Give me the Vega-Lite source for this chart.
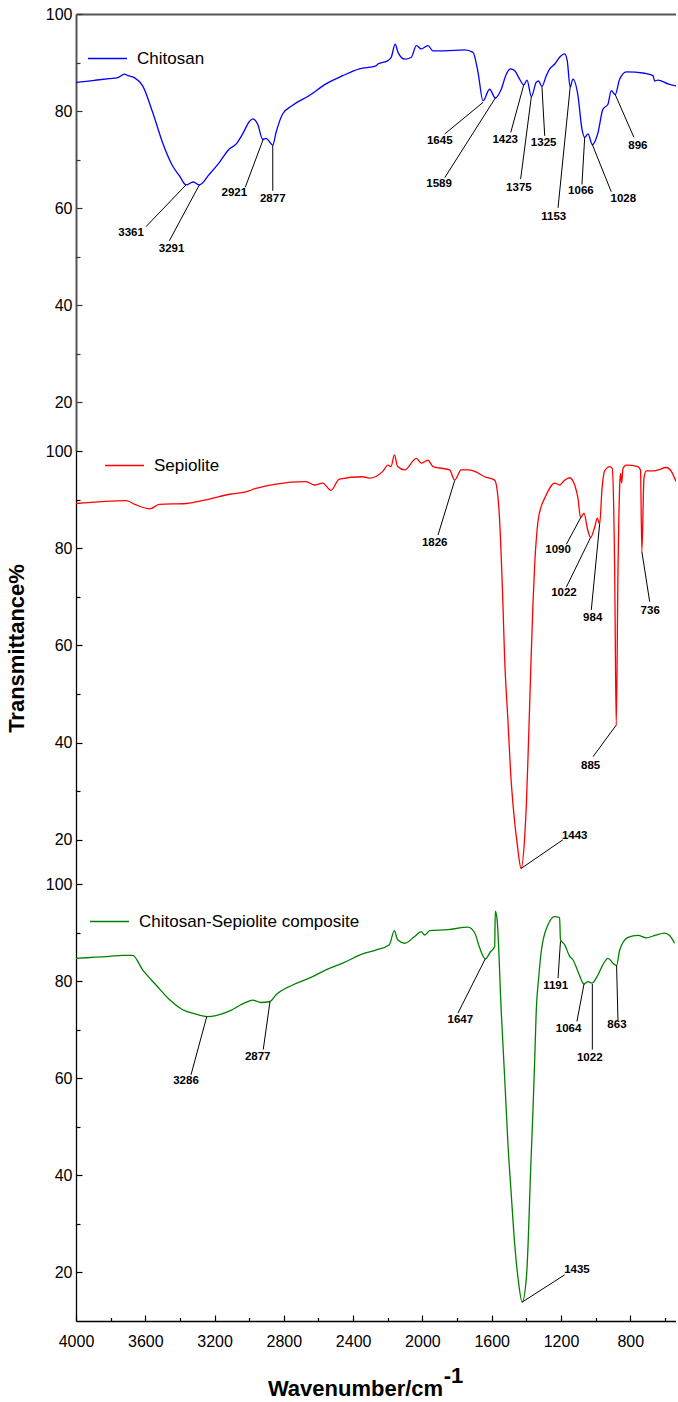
{
  "$schema": "https://vega.github.io/schema/vega-lite/v6.json",
  "padding": {"left": 5, "top": 6, "right": 0, "bottom": 0},
  "spacing": 0,
  "bounds": "flush",
  "config": {
    "view": {"stroke": null},
    "font": "Liberation Sans",
    "axis": {"labelFont": "Liberation Sans", "labelFontSize": 16, "labelColor": "#000", "grid": false, "domainColor": "#000", "tickColor": "#000", "domainWidth": 1.3, "tickWidth": 1.2, "titleFont": "Liberation Sans", "titleColor": "#000", "labelOverlap": false},
    "legend": {"orient": "none", "symbolType": "stroke", "symbolSize": 1521, "symbolStrokeWidth": 1.5, "labelFont": "Liberation Sans", "labelFontSize": 17, "labelColor": "#000", "labelOffset": 9, "labelLimit": 400, "padding": 0, "title": null}
  },
  "resolve": {"scale": {"x": "independent", "y": "independent", "color": "independent"}},
  "datasets": {
    "chitosan": [
      {"w":4000,"t":85.9},{"w":3904,"t":86.3},{"w":3808,"t":86.7},{"w":3759,"t":86.9},{"w":3721,"t":87.6},{"w":3700,"t":87.3},{"w":3663,"t":86.9},{"w":3615,"t":85.2},{"w":3557,"t":79.7},{"w":3500,"t":73.5},{"w":3442,"t":68.7},{"w":3403,"t":66.7},{"w":3365,"t":64.8},{"w":3323,"t":65.4},{"w":3288,"t":64.8},{"w":3230,"t":67.0},{"w":3173,"t":69.4},{"w":3115,"t":72.2},{"w":3076,"t":73.2},{"w":3038,"t":75.3},{"w":3000,"t":77.8},{"w":2980,"t":78.4},{"w":2951,"t":77.3},{"w":2922,"t":74.2},{"w":2903,"t":74.4},{"w":2864,"t":73.0},{"w":2845,"t":75.6},{"w":2807,"t":79.4},{"w":2749,"t":81.2},{"w":2653,"t":83.2},{"w":2557,"t":85.6},{"w":2460,"t":87.3},{"w":2364,"t":88.7},{"w":2268,"t":89.3},{"w":2257,"t":89.7},{"w":2199,"t":90.4},{"w":2180,"t":91.1},{"w":2157,"t":93.8},{"w":2141,"t":92.1},{"w":2102,"t":90.7},{"w":2064,"t":91.1},{"w":2035,"t":93.5},{"w":2007,"t":92.8},{"w":1968,"t":93.5},{"w":1939,"t":92.4},{"w":1872,"t":92.4},{"w":1756,"t":92.6},{"w":1708,"t":92.1},{"w":1679,"t":88.0},{"w":1650,"t":82.1},{"w":1612,"t":84.5},{"w":1579,"t":82.7},{"w":1545,"t":84.5},{"w":1516,"t":87.6},{"w":1491,"t":88.7},{"w":1467,"t":88.3},{"w":1439,"t":86.6},{"w":1415,"t":85.4},{"w":1396,"t":86.4},{"w":1371,"t":83.0},{"w":1343,"t":85.9},{"w":1330,"t":86.2},{"w":1310,"t":85.1},{"w":1285,"t":87.3},{"w":1265,"t":88.7},{"w":1236,"t":89.7},{"w":1208,"t":91.1},{"w":1179,"t":91.8},{"w":1164,"t":90.4},{"w":1147,"t":84.9},{"w":1131,"t":86.6},{"w":1102,"t":83.2},{"w":1079,"t":76.3},{"w":1063,"t":74.6},{"w":1044,"t":75.3},{"w":1019,"t":73.1},{"w":986,"t":75.6},{"w":958,"t":80.4},{"w":929,"t":81.4},{"w":910,"t":84.2},{"w":887,"t":83.4},{"w":861,"t":86.6},{"w":823,"t":88.1},{"w":717,"t":87.8},{"w":669,"t":87.3},{"w":659,"t":86.2},{"w":640,"t":86.4},{"w":582,"t":85.6},{"w":536,"t":85.2}
    ],
    "sepiolite": [
      {"w":4000,"t":89.2},{"w":3711,"t":89.8},{"w":3654,"t":88.9},{"w":3573,"t":88.1},{"w":3519,"t":89.0},{"w":3365,"t":89.2},{"w":3230,"t":90.1},{"w":3115,"t":91.1},{"w":3019,"t":91.6},{"w":2961,"t":92.3},{"w":2845,"t":93.2},{"w":2672,"t":93.7},{"w":2624,"t":93.0},{"w":2576,"t":93.4},{"w":2528,"t":91.9},{"w":2480,"t":94.2},{"w":2345,"t":94.7},{"w":2307,"t":94.4},{"w":2229,"t":95.8},{"w":2199,"t":97.1},{"w":2181,"t":96.8},{"w":2162,"t":99.2},{"w":2143,"t":96.8},{"w":2102,"t":96.1},{"w":2035,"t":98.5},{"w":2007,"t":97.5},{"w":1968,"t":98.1},{"w":1939,"t":96.8},{"w":1843,"t":96.1},{"w":1814,"t":94.0},{"w":1776,"t":96.1},{"w":1737,"t":96.1},{"w":1698,"t":95.8},{"w":1641,"t":94.7},{"w":1583,"t":94.0},{"w":1560,"t":88.9},{"w":1535,"t":68.3},{"w":1526,"t":58.0},{"w":1506,"t":44.3},{"w":1491,"t":34.0},{"w":1477,"t":27.2},{"w":1452,"t":18.9},{"w":1430,"t":14.1},{"w":1410,"t":20.3},{"w":1400,"t":27.2},{"w":1390,"t":37.4},{"w":1381,"t":47.7},{"w":1372,"t":58.0},{"w":1362,"t":68.3},{"w":1352,"t":76.5},{"w":1333,"t":85.5},{"w":1314,"t":88.6},{"w":1294,"t":90.3},{"w":1236,"t":93.4},{"w":1208,"t":93.0},{"w":1179,"t":94.0},{"w":1150,"t":94.5},{"w":1121,"t":93.0},{"w":1102,"t":90.3},{"w":1087,"t":86.3},{"w":1067,"t":87.2},{"w":1048,"t":84.1},{"w":1029,"t":82.2},{"w":1005,"t":84.4},{"w":990,"t":86.2},{"w":977,"t":84.9},{"w":963,"t":92.3},{"w":948,"t":95.9},{"w":919,"t":96.8},{"w":904,"t":96.4},{"w":890,"t":75.2},{"w":881,"t":43.6},{"w":871,"t":75.2},{"w":861,"t":93.0},{"w":856,"t":95.4},{"w":850,"t":93.4},{"w":842,"t":96.4},{"w":823,"t":97.1},{"w":756,"t":96.8},{"w":741,"t":96.1},{"w":733,"t":79.3},{"w":721,"t":94.4},{"w":708,"t":95.9},{"w":669,"t":95.9},{"w":640,"t":96.1},{"w":592,"t":96.6},{"w":563,"t":95.8},{"w":536,"t":93.7}
    ],
    "composite": [
      {"w":4000,"t":84.7},{"w":3808,"t":85.1},{"w":3730,"t":85.3},{"w":3673,"t":85.3},{"w":3615,"t":82.3},{"w":3538,"t":79.2},{"w":3461,"t":76.2},{"w":3384,"t":74.1},{"w":3307,"t":73.2},{"w":3240,"t":72.7},{"w":3192,"t":72.9},{"w":3115,"t":73.8},{"w":3038,"t":75.3},{"w":2980,"t":76.1},{"w":2932,"t":75.6},{"w":2880,"t":75.8},{"w":2845,"t":77.2},{"w":2749,"t":79.2},{"w":2653,"t":80.6},{"w":2557,"t":82.3},{"w":2460,"t":83.7},{"w":2345,"t":85.6},{"w":2268,"t":86.4},{"w":2191,"t":87.5},{"w":2162,"t":90.4},{"w":2143,"t":88.5},{"w":2102,"t":87.8},{"w":2045,"t":89.2},{"w":2007,"t":90.2},{"w":1987,"t":89.5},{"w":1958,"t":90.4},{"w":1852,"t":90.6},{"w":1737,"t":91.1},{"w":1698,"t":89.9},{"w":1669,"t":86.8},{"w":1637,"t":84.6},{"w":1606,"t":86.1},{"w":1583,"t":87.1},{"w":1579,"t":94.4},{"w":1568,"t":92.3},{"w":1545,"t":73.8},{"w":1525,"t":60.0},{"w":1506,"t":46.3},{"w":1487,"t":36.0},{"w":1467,"t":25.7},{"w":1448,"t":18.8},{"w":1424,"t":13.9},{"w":1400,"t":18.8},{"w":1390,"t":25.7},{"w":1377,"t":39.4},{"w":1362,"t":53.2},{"w":1352,"t":63.5},{"w":1343,"t":73.8},{"w":1329,"t":80.6},{"w":1314,"t":86.1},{"w":1275,"t":91.6},{"w":1236,"t":93.3},{"w":1208,"t":93.1},{"w":1203,"t":88.5},{"w":1179,"t":87.5},{"w":1150,"t":85.1},{"w":1131,"t":84.4},{"w":1102,"t":82.0},{"w":1067,"t":79.4},{"w":1044,"t":79.9},{"w":1021,"t":79.6},{"w":986,"t":81.3},{"w":958,"t":83.4},{"w":929,"t":84.7},{"w":900,"t":83.7},{"w":879,"t":83.2},{"w":861,"t":86.4},{"w":813,"t":89.0},{"w":756,"t":89.4},{"w":708,"t":88.9},{"w":659,"t":89.4},{"w":602,"t":89.9},{"w":573,"t":89.4},{"w":544,"t":87.8}
    ],
    "ann1": [
      {"w1":3365,"t1":64.8,"w2":3596,"t2":56.2,"lw":3682,"lt":55.0,"label":"3361"},
      {"w1":3288,"t1":64.8,"w2":3461,"t2":53.3,"lw":3448,"lt":51.7,"label":"3291"},
      {"w1":2919,"t1":74.2,"w2":3023,"t2":64.3,"lw":3086,"lt":63.1,"label":"2921"},
      {"w1":2864,"t1":73.0,"w2":2864,"t2":63.6,"lw":2864,"lt":61.9,"label":"2877"},
      {"w1":1650,"t1":81.8,"w2":1871,"t2":75.3,"lw":1900,"lt":73.9,"label":"1645"},
      {"w1":1579,"t1":82.7,"w2":1871,"t2":66.3,"lw":1904,"lt":64.9,"label":"1589"},
      {"w1":1415,"t1":85.4,"w2":1490,"t2":75.6,"lw":1522,"lt":74.1,"label":"1423"},
      {"w1":1371,"t1":83.0,"w2":1433,"t2":66.0,"lw":1443,"lt":64.2,"label":"1375"},
      {"w1":1310,"t1":85.1,"w2":1294,"t2":74.9,"lw":1300,"lt":73.4,"label":"1325"},
      {"w1":1147,"t1":84.9,"w2":1217,"t2":60.1,"lw":1242,"lt":58.2,"label":"1153"},
      {"w1":1063,"t1":74.6,"w2":1079,"t2":64.9,"lw":1085,"lt":63.5,"label":"1066"},
      {"w1":1019,"t1":73.1,"w2":910,"t2":63.4,"lw":840,"lt":61.9,"label":"1028"},
      {"w1":887,"t1":83.4,"w2":779,"t2":74.6,"lw":756,"lt":72.8,"label":"896"}
    ],
    "ann2": [
      {"w1":1814,"t1":93.9,"w2":1910,"t2":82.7,"lw":1929,"lt":81.0,"label":"1826"},
      {"w1":1086,"t1":86.3,"w2":1169,"t2":80.8,"lw":1217,"lt":79.6,"label":"1090"},
      {"w1":1029,"t1":82.2,"w2":1169,"t2":72.0,"lw":1183,"lt":70.8,"label":"1022"},
      {"w1":977,"t1":84.9,"w2":1025,"t2":67.3,"lw":1017,"lt":65.6,"label":"984"},
      {"w1":881,"t1":43.6,"w2":1015,"t2":37.1,"lw":1029,"lt":35.2,"label":"885"},
      {"w1":1430,"t1":14.1,"w2":1189,"t2":20.0,"lw":1121,"lt":20.8,"label":"1443"},
      {"w1":733,"t1":79.3,"w2":688,"t2":69.0,"lw":685,"lt":67.0,"label":"736"}
    ],
    "ann3": [
      {"w1":3245,"t1":72.7,"w2":3336,"t2":60.7,"lw":3365,"lt":59.5,"label":"3286"},
      {"w1":2880,"t1":75.8,"w2":2919,"t2":65.9,"lw":2951,"lt":64.4,"label":"2877"},
      {"w1":1637,"t1":84.6,"w2":1795,"t2":73.4,"lw":1781,"lt":72.0,"label":"1647"},
      {"w1":1203,"t1":88.2,"w2":1217,"t2":80.6,"lw":1231,"lt":79.0,"label":"1191"},
      {"w1":1067,"t1":79.4,"w2":1108,"t2":71.7,"lw":1156,"lt":70.1,"label":"1064"},
      {"w1":1019,"t1":79.4,"w2":1019,"t2":65.9,"lw":1034,"lt":64.2,"label":"1022"},
      {"w1":879,"t1":83.2,"w2":871,"t2":72.0,"lw":877,"lt":71.0,"label":"863"},
      {"w1":1424,"t1":13.9,"w2":1179,"t2":19.5,"lw":1108,"lt":20.6,"label":"1435"}
    ]
  },
  "vconcat": [
    {
      "width": 600, "height": 437,
      "resolve": {"axis": {"x": "independent", "y": "independent"}},
      "layer": [
        {
          "data": {"name": "chitosan"},
          "mark": {"type": "line", "strokeWidth": 1.3, "clip": true, "interpolate": "monotone"},
          "encoding": {
            "x": {"field": "w", "type": "quantitative", "scale": {"domain": [536, 4000], "reverse": true, "nice": false, "zero": false},
                  "axis": {"orient": "top", "ticks": false, "labels": false, "title": null, "domainColor": "#555555", "domainWidth": 2}},
            "y": {"field": "t", "type": "quantitative", "scale": {"domain": [10, 100], "nice": false, "zero": false},
                  "axis": {"orient": "left", "values": [20,40,60,80,100], "tickSize": -6, "labelPadding": 10, "title": null, "domainColor": "#555555", "domainWidth": 2, "tickColor": "#333333"}},
            "color": {"datum": "Chitosan", "type": "nominal", "scale": {"domain": ["Chitosan"], "range": ["#0000ff"]},
                      "legend": {"legendX": 11, "legendY": 24}}
          }
        },
        {
          "data": {"name": "ann1"},
          "mark": {"type": "rule", "color": "#000000", "strokeWidth": 1},
          "encoding": {"x": {"field": "w1", "type": "quantitative", "axis": null},
                       "y": {"field": "t1", "type": "quantitative", "axis": {"orient": "left", "values": [30,50,70,90], "labels": false, "domain": false, "tickSize": -4, "title": null, "tickColor": "#333333"}},
                       "x2": {"field": "w2"}, "y2": {"field": "t2"}}
        },
        {
          "data": {"name": "ann1"},
          "mark": {"type": "text", "fontWeight": "bold", "fontSize": 11.5, "font": "Liberation Sans", "color": "#000000"},
          "encoding": {"x": {"field": "lw", "type": "quantitative", "axis": null}, "y": {"field": "lt", "type": "quantitative", "axis": null}, "text": {"field": "label"}}
        }
      ]
    },
    {
      "width": 600, "height": 433,
      "resolve": {"axis": {"x": "independent", "y": "independent"}},
      "layer": [
        {
          "data": {"name": "sepiolite"},
          "mark": {"type": "line", "strokeWidth": 1.3, "clip": true, "interpolate": "monotone"},
          "encoding": {
            "x": {"field": "w", "type": "quantitative", "scale": {"domain": [536, 4000], "reverse": true, "nice": false, "zero": false}, "axis": null},
            "y": {"field": "t", "type": "quantitative", "scale": {"domain": [10.9, 100], "nice": false, "zero": false},
                  "axis": {"orient": "left", "values": [20,40,60,80,100], "tickSize": -6, "labelPadding": 10, "title": "Transmittance%", "titleFontSize": 22, "titleFontWeight": "bold",
                           "titleX": -53, "titleY": 197, "titleBaseline": "alphabetic", "titleAlign": "center", "titleAngle": -90}},
            "color": {"datum": "Sepiolite", "type": "nominal", "scale": {"domain": ["Sepiolite"], "range": ["#ff0000"]},
                      "legend": {"legendX": 28, "legendY": -6}}
          }
        },
        {
          "data": {"name": "ann2"},
          "mark": {"type": "rule", "color": "#000000", "strokeWidth": 1},
          "encoding": {"x": {"field": "w1", "type": "quantitative", "axis": null},
                       "y": {"field": "t1", "type": "quantitative", "axis": {"orient": "left", "values": [30,50,70,90], "labels": false, "domain": false, "tickSize": -4, "title": null}},
                       "x2": {"field": "w2"}, "y2": {"field": "t2"}}
        },
        {
          "data": {"name": "ann2"},
          "mark": {"type": "text", "fontWeight": "bold", "fontSize": 11.5, "font": "Liberation Sans", "color": "#000000"},
          "encoding": {"x": {"field": "lw", "type": "quantitative", "axis": null}, "y": {"field": "lt", "type": "quantitative", "axis": null}, "text": {"field": "label"}}
        }
      ]
    },
    {
      "width": 600, "height": 437,
      "resolve": {"axis": {"x": "independent", "y": "independent"}},
      "layer": [
        {
          "data": {"name": "composite"},
          "mark": {"type": "line", "strokeWidth": 1.3, "clip": true, "interpolate": "monotone"},
          "encoding": {
            "x": {"field": "w", "type": "quantitative", "scale": {"domain": [536, 4000], "reverse": true, "nice": false, "zero": false},
                  "axis": {"orient": "bottom", "values": [800,1200,1600,2000,2400,2800,3200,3600,4000], "format": ".0f",
                           "labelFlush": false, "labelOverlap": false,
                           "tickSize": -6, "labelPadding": 18,
                           "title": "Wavenumber/cm", "titleFontSize": 22, "titleFontWeight": "bold",
                           "titleX": 279, "titleY": 74, "titleBaseline": "alphabetic", "titleAlign": "center"}},
            "y": {"field": "t", "type": "quantitative", "scale": {"domain": [10, 100], "nice": false, "zero": false},
                  "axis": {"orient": "left", "values": [20,40,60,80,100], "tickSize": -6, "labelPadding": 10, "title": null}},
            "color": {"datum": "Chitosan-Sepiolite composite", "type": "nominal", "scale": {"domain": ["Chitosan-Sepiolite composite"], "range": ["#008000"]},
                      "legend": {"legendX": 13, "legendY": 17}}
          }
        },
        {
          "data": {"name": "ann3"},
          "mark": {"type": "rule", "color": "#000000", "strokeWidth": 1},
          "encoding": {"x": {"field": "w1", "type": "quantitative", "axis": {"orient": "bottom", "values": [600,1000,1400,1800,2200,2600,3000,3400,3800], "labels": false, "domain": false, "tickSize": -3.5,
                                                                              "title": "-1", "titleFontSize": 22, "titleFontWeight": "bold", "titleX": 377, "titleY": 61, "titleBaseline": "alphabetic", "titleAlign": "center"}},
                       "y": {"field": "t1", "type": "quantitative", "axis": {"orient": "left", "values": [30,50,70,90], "labels": false, "domain": false, "tickSize": -4, "title": null}},
                       "x2": {"field": "w2"}, "y2": {"field": "t2"}}
        },
        {
          "data": {"name": "ann3"},
          "mark": {"type": "text", "fontWeight": "bold", "fontSize": 11.5, "font": "Liberation Sans", "color": "#000000"},
          "encoding": {"x": {"field": "lw", "type": "quantitative", "axis": null}, "y": {"field": "lt", "type": "quantitative", "axis": null}, "text": {"field": "label"}}
        }
      ]
    }
  ]
}
